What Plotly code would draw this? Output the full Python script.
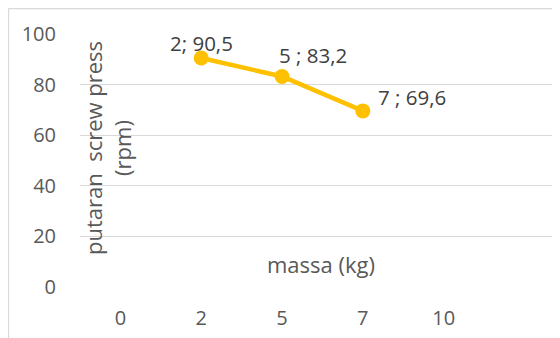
import plotly.graph_objects as go

categories = ["0", "2", "5", "7", "10"]
mass = ["2", "5", "7"]
rpm = [90.5, 83.2, 69.6]
labels = ["2; 90,5", "5 ; 83,2", "7 ; 69,6"]
y_ticks = [0, 20, 40, 60, 80, 100]

pos = {c: i for i, c in enumerate(categories)}
xs = [pos[m] for m in mass]

FONT = "Open Sans"
LBL = dict(family=FONT, size=20.5, color="#404040")
TTL = dict(family=FONT, size=22, color="#595959")
TCK = dict(family=FONT, size=20, color="#595959")

# plot area in window pixels: left 80, right 560, top 34 (100), bottom 287 (0)
def px(wx):
    return (wx - 80) / 480

def py(wy):
    return (287 - wy) / 253

fig = go.Figure()
fig.add_trace(go.Scatter(
    x=xs, y=rpm, mode="lines+markers",
    line=dict(color="#FFC000", width=4.5),
    marker=dict(color="#FFC000", size=15),
    hoverinfo="skip", showlegend=False, cliponaxis=False,
))

# data labels
fig.add_annotation(x=xs[0], y=rpm[0], text=labels[0], showarrow=False,
                   yshift=15, font=LBL)
fig.add_annotation(x=xs[1], y=rpm[1], text=labels[1], showarrow=False,
                   yshift=22, xshift=31, font=LBL)
fig.add_annotation(x=xs[2], y=rpm[2], text=labels[2], showarrow=False,
                   xanchor="left", xshift=13, yshift=14, font=LBL)

# axis titles placed inside plot area
fig.add_annotation(xref="paper", yref="paper", x=px(107), y=py(148),
                   xanchor="center", yanchor="middle",
                   text="putaran  screw press<br>(rpm)", textangle=-90, showarrow=False,
                   font=TTL)
fig.add_annotation(xref="paper", yref="paper", x=px(321), y=py(264),
                   xanchor="center", yanchor="middle",
                   text="massa (kg)", showarrow=False, font=TTL)

# chart border (left and top visible)
fig.add_shape(type="line", xref="paper", yref="paper",
              x0=px(8.5), x1=px(8.5), y0=py(8.5), y1=py(345),
              line=dict(color="#D9D9D9", width=1.3))
fig.add_shape(type="line", xref="paper", yref="paper",
              x0=px(8.5), x1=px(570), y0=py(8.5), y1=py(8.5),
              line=dict(color="#D9D9D9", width=1.3))

fig.update_xaxes(
    range=[-0.5, 5.44], tickmode="array", tickvals=list(range(len(categories))),
    ticktext=categories, showgrid=False, zeroline=False, showline=False,
    tickfont=TCK, ticks="outside", ticklen=13, tickcolor="rgba(0,0,0,0)",
)
fig.update_yaxes(
    range=[0, 100], tickvals=y_ticks, showgrid=True, gridcolor="#D9D9D9", gridwidth=1.3,
    zeroline=False, showline=False,
    tickfont=TCK, ticks="outside", ticklen=19, tickcolor="rgba(0,0,0,0)",
)
# page body has an 8px margin, so the figure is offset by 8px
fig.update_layout(
    width=552, height=330,
    margin=dict(l=72, r=0, t=26, b=51),
    plot_bgcolor="white", paper_bgcolor="white",
)
fig.write_html("out.html")
